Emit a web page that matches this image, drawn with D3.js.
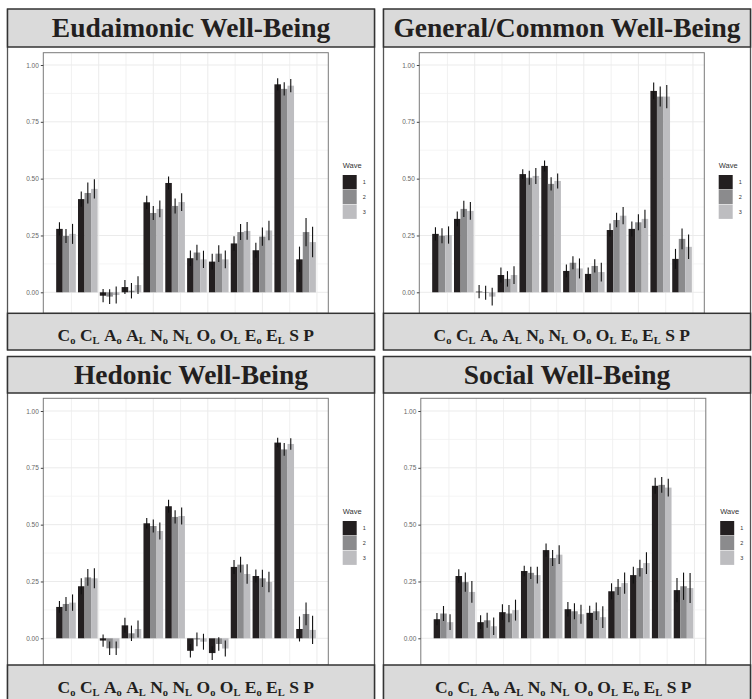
<!DOCTYPE html>
<html><head><meta charset="utf-8">
<script src="https://cdn.jsdelivr.net/npm/d3@7"></script>
<style>body{margin:0;background:#fff}svg{display:block}</style>
</head><body>
<script>
// ---------- data ----------
const categories = ["C_o","C_L","A_o","A_L","N_o","N_L","O_o","O_L","E_o","E_L","S","P"];
const waves = ["1","2","3"];
const waveColors = ["#231f20","#8b8b8d","#bdbdc0"];
const panelTitles = ["Eudaimonic Well-Being","General/Common Well-Being","Hedonic Well-Being","Social Well-Being"];
const yTicks = [0, 0.25, 0.5, 0.75, 1];
const yTickLabels = ["0.00","0.25","0.50","0.75","1.00"];

const eudaimonicMeans = [
  [0.279,0.410,-0.015,0.023,0.396,0.481,0.150,0.135,0.215,0.185,0.915,0.145],
  [0.248,0.437,-0.019,0.007,0.349,0.380,0.175,0.170,0.265,0.245,0.895,0.265],
  [0.257,0.455,-0.012,0.032,0.367,0.397,0.145,0.145,0.270,0.272,0.909,0.221]];
const eudaimonicErrors = [
  [0.029,0.034,0.029,0.031,0.029,0.029,0.034,0.035,0.032,0.033,0.027,0.056],
  [0.031,0.046,0.032,0.034,0.031,0.033,0.034,0.037,0.035,0.040,0.029,0.062],
  [0.044,0.042,0.037,0.039,0.037,0.039,0.038,0.039,0.039,0.043,0.029,0.067]];

const generalMeans = [
  [0.257,0.323,0.003,0.076,0.520,0.556,0.094,0.081,0.274,0.279,0.886,0.147],
  [0.249,0.367,-0.002,0.059,0.504,0.477,0.130,0.116,0.318,0.308,0.861,0.235],
  [0.252,0.358,-0.019,0.076,0.512,0.490,0.105,0.089,0.337,0.323,0.861,0.200]];
const generalErrors = [
  [0.029,0.032,0.029,0.033,0.021,0.024,0.028,0.028,0.029,0.033,0.037,0.044],
  [0.033,0.036,0.031,0.034,0.031,0.029,0.029,0.029,0.032,0.035,0.044,0.046],
  [0.038,0.039,0.039,0.039,0.035,0.033,0.044,0.041,0.038,0.040,0.051,0.054]];

const hedonicMeans = [
  [0.138,0.229,-0.010,0.057,0.506,0.581,-0.055,-0.065,0.314,0.274,0.861,0.041],
  [0.151,0.268,-0.044,0.022,0.494,0.534,-0.005,-0.025,0.324,0.264,0.831,0.107],
  [0.157,0.264,-0.044,0.041,0.472,0.538,-0.015,-0.045,0.283,0.248,0.855,0.037]];
const hedonicErrors = [
  [0.026,0.035,0.027,0.033,0.023,0.029,0.030,0.030,0.031,0.029,0.021,0.055],
  [0.031,0.037,0.030,0.034,0.029,0.029,0.030,0.030,0.035,0.038,0.028,0.050],
  [0.036,0.044,0.030,0.037,0.037,0.037,0.035,0.035,0.043,0.045,0.025,0.062]];

const socialMeans = [
  [0.084,0.274,0.071,0.115,0.296,0.388,0.128,0.112,0.207,0.278,0.671,0.212],
  [0.109,0.247,0.079,0.109,0.288,0.353,0.119,0.119,0.226,0.309,0.675,0.229],
  [0.071,0.204,0.053,0.124,0.278,0.368,0.106,0.093,0.243,0.331,0.663,0.221]];
const socialErrors = [
  [0.027,0.030,0.030,0.035,0.023,0.029,0.032,0.031,0.035,0.037,0.035,0.053],
  [0.033,0.042,0.033,0.038,0.027,0.035,0.035,0.039,0.035,0.037,0.035,0.060],
  [0.035,0.048,0.038,0.046,0.037,0.041,0.042,0.048,0.047,0.048,0.039,0.066]];

const panelMeans = [eudaimonicMeans, generalMeans, hedonicMeans, socialMeans];
const panelErrors = [eudaimonicErrors, generalErrors, hedonicErrors, socialErrors];

// ---------- layout ----------
const W = 752, H = 699;
const colOffsets = [0, 376], rowOffsets = [0, 346];
const rowLayout = [
  { titleTop: 9, titleBot: 47, plotT: 52.7, plotB: 313.3, stripB: 350 },
  { titleTop: 10.5, titleBot: 47, plotT: 52.3, plotB: 319, stripB: 358 }
];
const panelShift = [0, 0, 0, 1.5];
const frameL = 7.5, frameR = 374.5;
const plotL = 43.3, plotR = 328.3;

const svg = d3.select("body").append("svg").attr("width", W).attr("height", H);

const x = d3.scaleLinear().domain([-0.04, 13.02]).range([plotL, plotR]);
const y = d3.scaleLinear().domain([0, 1]).range([292.3, 65]);
const dodge = d3.scaleBand().domain(waves).range([-0.45, 0.45]).padding(0);
const SANS = "Liberation Sans, Arial, sans-serif";
const SERIF = "Liberation Serif, Times New Roman, serif";

panelTitles.forEach((title, p) => {
  const L = rowLayout[Math.floor(p / 2)];
  const g = svg.append("g")
    .attr("transform", `translate(${colOffsets[p % 2]},${rowOffsets[Math.floor(p / 2)]})`);

  // outer frame verticals
  [frameL, frameR].forEach(fx => g.append("line").attr("x1", fx).attr("x2", fx)
    .attr("y1", L.titleTop).attr("y2", L.stripB).attr("stroke", "#555").attr("stroke-width", 1.3));

  const pg = g.append("g").attr("transform", `translate(${panelShift[p]},0)`);

  // grid
  const vGrid = d3.range(1, 11).map(k => k * 1.25);
  pg.append("g").selectAll("line").data(vGrid).join("line")
    .attr("x1", d => x(d)).attr("x2", d => x(d)).attr("y1", L.plotT).attr("y2", L.plotB)
    .attr("stroke", "#ebebeb").attr("stroke-width", (d, i) => i % 2 ? 1 : 0.7);
  const hMinor = [0.125, 0.375, 0.625, 0.875];
  pg.append("g").selectAll("line").data(hMinor).join("line")
    .attr("x1", plotL).attr("x2", plotR).attr("y1", d => y(d)).attr("y2", d => y(d))
    .attr("stroke", "#f0f0f0").attr("stroke-width", 0.7);
  pg.append("g").selectAll("line").data(yTicks).join("line")
    .attr("x1", plotL).attr("x2", plotR).attr("y1", d => y(d)).attr("y2", d => y(d))
    .attr("stroke", "#ebebeb").attr("stroke-width", 1);

  // bars
  const means = panelMeans[p], errs = panelErrors[p];
  const bw = x(dodge.bandwidth()) - x(0);
  const rows = waves.map((w, wi) => categories.map((c, ci) => ({ w, wi, i: ci + 1, v: means[wi][ci], e: errs[wi][ci] })));
  rows.forEach((data, wi) => {
    pg.append("g").selectAll("rect").data(data).join("rect")
      .attr("x", d => x(d.i + dodge(d.w)))
      .attr("width", bw)
      .attr("y", d => y(Math.max(0, d.v)))
      .attr("height", d => Math.abs(y(d.v) - y(0)))
      .attr("fill", waveColors[wi]);
  });
  rows.forEach(data => {
    pg.append("g").selectAll("line").data(data).join("line")
      .attr("x1", d => x(d.i + dodge(d.w) + dodge.bandwidth() / 2))
      .attr("x2", d => x(d.i + dodge(d.w) + dodge.bandwidth() / 2))
      .attr("y1", d => y(d.v - d.e)).attr("y2", d => y(d.v + d.e))
      .attr("stroke", "#111").attr("stroke-width", 1.1);
  });

  // panel border
  pg.append("rect").attr("x", plotL).attr("y", L.plotT).attr("width", plotR - plotL).attr("height", L.plotB - L.plotT)
    .attr("fill", "none").attr("stroke", "#7a7a7a").attr("stroke-width", 1);

  // y axis
  const yAxis = d3.axisLeft(y).tickValues(yTicks).tickFormat((d, i) => yTickLabels[i]).tickSize(2.5).tickPadding(2);
  const ya = pg.append("g").attr("transform", `translate(${plotL},0)`).call(yAxis);
  ya.select(".domain").remove();
  ya.selectAll(".tick line").attr("stroke", "#444");
  ya.selectAll(".tick text").attr("fill", "#666").attr("font-size", "6.5px").attr("font-family", SANS);

  // title strip
  g.append("rect").attr("x", frameL).attr("y", L.titleTop).attr("width", frameR - frameL).attr("height", L.titleBot - L.titleTop)
    .attr("fill", "#dadada").attr("stroke", "#333").attr("stroke-width", 1.5);
  g.append("text").attr("x", (frameL + frameR) / 2).attr("y", (L.titleTop + L.titleBot) / 2 + 9)
    .attr("text-anchor", "middle").attr("font-family", SERIF)
    .attr("font-weight", "bold").attr("font-size", "27.5px").attr("fill", "#231f20").text(title);

  // bottom strip with category labels
  g.append("rect").attr("x", frameL).attr("y", L.plotB).attr("width", frameR - frameL).attr("height", L.stripB - L.plotB)
    .attr("fill", "#dadada").attr("stroke", "#333").attr("stroke-width", 1.5);
  const lab = g.append("text").attr("x", (plotL + plotR) / 2 + panelShift[p]).attr("y", L.plotB + 27.5)
    .attr("text-anchor", "middle").attr("font-family", SERIF)
    .attr("font-weight", "bold").attr("font-size", "17.5px").attr("fill", "#231f20");
  let pendingDy = 0;
  categories.forEach((c, ci) => {
    const [base, sub] = c.split("_");
    lab.append("tspan").attr("font-size", "17.5px").attr("dy", pendingDy).text((ci > 0 ? "\u00A0" : "") + base);
    pendingDy = 0;
    if (sub) {
      lab.append("tspan").attr("font-size", "10.5px").attr("dy", 3).text(sub);
      pendingDy = -3;
    }
  });

  // legend
  const lg = pg.append("g");
  lg.append("text").attr("x", 342.7).attr("y", 168.3).attr("font-size", "7.5px").attr("fill", "#333")
    .attr("font-family", SANS).text("Wave");
  waves.forEach((w, wi) => {
    lg.append("rect").attr("x", 342.7).attr("y", 175 + wi * 14.8).attr("width", 14).attr("height", 14.3)
      .attr("fill", waveColors[wi]);
    lg.append("text").attr("x", 362.7).attr("y", 175 + wi * 14.8 + 9.2).attr("font-size", "5.5px").attr("fill", "#333")
      .attr("font-family", SANS).text(w);
  });
});
</script>
</body></html>
